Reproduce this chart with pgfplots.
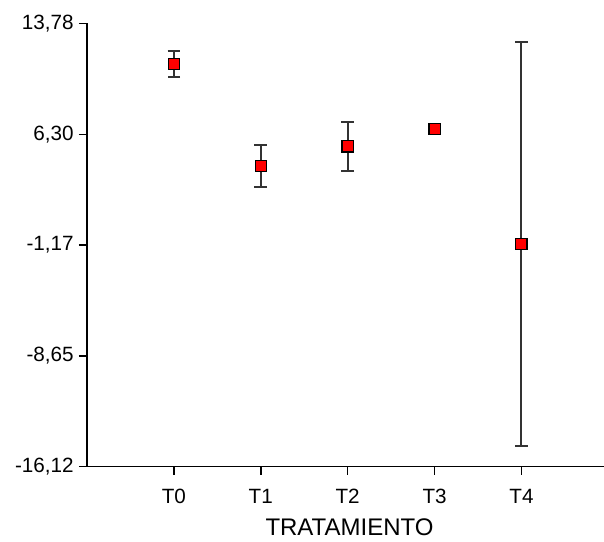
\documentclass[border=0pt]{standalone}
\usepackage{pgfplots}
\pgfplotsset{compat=1.18}
\usepackage{fontspec}
\setmainfont{Liberation Sans}
\begin{document}
\begin{tikzpicture}
\begin{axis}[
  scale only axis,
  width=387.75pt, height=332.5pt,
  xmin=-1, xmax=4.95,
  ymin=-16.12, ymax=13.78,
  axis x line=bottom, axis y line=left,
  axis line style={-, line width=1.1pt, black},
  tick align=outside,
  major tick length=6pt,
  tick style={line width=1.1pt, black},
  xtick={0,1,2,3,4},
  xticklabels={T0,T1,T2,T3,T4},
  ytick={13.78,6.30,-1.17,-8.65,-16.12},
  yticklabels={{13,78},{6,30},{-1,17},{-8,65},{-16,12}},
  /pgf/number format/assume math mode=true,
  xticklabel style={font=\fontsize{15.5}{18}\selectfont, anchor=base, yshift=-22pt},
  yticklabel style={font=\fontsize{15.5}{18}\selectfont, anchor=east, xshift=-0.5pt},
  xlabel={TRATAMIENTO},
  xlabel style={font=\fontsize{18}{20}\selectfont, at={(axis description cs:0.5,0)}, anchor=base, yshift=-51.5pt, xshift=3pt},
  clip=false,
]
\addplot[only marks, line width=1.5pt, mark=square*, mark size=4.2pt,
  mark options={fill=red, draw=black, line width=0.9pt},
  error bars/.cd, y dir=both, y explicit,
  error bar style={line width=1.5pt, draw=black!80},
  error mark options={rotate=90, mark size=4.75pt, line width=1.5pt, draw=black!80}]
coordinates {
  (0,11.04) +- (0,0.88)
  (1,4.17) +- (0,1.41)
  (2,5.48) +- (0,1.67)
  (3,6.65) +- (0,0)
  (4,-1.12) +- (0,13.61)
};
\end{axis}
\pgfresetboundingbox
\path (-65.25pt,-56.5pt) rectangle (387.75pt,350pt);
\end{tikzpicture}
\end{document}
